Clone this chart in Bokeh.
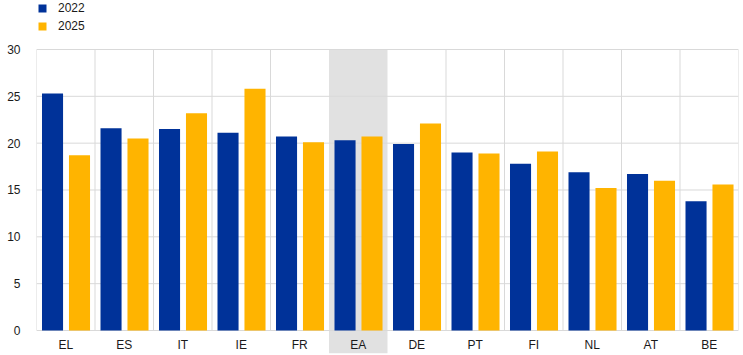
from bokeh.plotting import figure
from bokeh.models import ColumnDataSource, Range1d, FixedTicker, Legend, LegendItem
from bokeh.transform import dodge
from bokeh.core.properties import value
from bokeh.embed import file_html
from bokeh.resources import INLINE

categories = ["EL", "ES", "IT", "IE", "FR", "EA", "DE", "PT", "FI", "NL", "AT", "BE"]
v2022 = [25.3, 21.6, 21.5, 21.1, 20.7, 20.3, 19.9, 19.0, 17.8, 16.9, 16.7, 13.8]
v2025 = [18.7, 20.5, 23.2, 25.8, 20.1, 20.7, 22.1, 18.9, 19.1, 15.2, 16.0, 15.6]
yticks = [0, 5, 10, 15, 20, 25, 30]
highlight = "EA"

BLUE = "#003299"
YELLOW = "#FFB400"
GRID = "#D9D9D9"
SHADE = "#E1E1E1"
FONT = "Liberation Sans"
TXT = "#1a1a1a"

n = len(categories)
xs = [i + 0.5 for i in range(n)]
src = ColumnDataSource(dict(x=xs, cat=categories, a=v2022, b=v2025))

ymin = -2.455
ymax = 35.23
p = figure(width=743, height=355, output_backend="svg", toolbar_location=None,
           x_range=Range1d(0, n), y_range=Range1d(ymin, ymax),
           min_border_left=36, min_border_right=5, min_border_top=0, min_border_bottom=2)
p.outline_line_color = None
p.xgrid.visible = False
p.ygrid.visible = False
p.xaxis.visible = False
p.background_fill_color = "white"

# highlight band
hi = categories.index(highlight)
p.quad(left=[hi], right=[hi + 1], bottom=[ymin], top=[yticks[-1]],
       fill_color=SHADE, line_color=None)

# vertical grid lines at category boundaries (hidden under the band)
bx = [i for i in range(n + 1) if i not in (hi, hi + 1)]
p.segment(x0=bx, x1=bx, y0=[yticks[0]] * len(bx), y1=[yticks[-1]] * len(bx),
          line_color=GRID, line_width=1)
# horizontal grid lines
p.segment(x0=[0] * len(yticks), x1=[n] * len(yticks), y0=yticks, y1=yticks,
          line_color=GRID, line_width=1)

w = 0.36
r1 = p.vbar(x=dodge("x", -0.226, range=p.x_range), top="a", width=w, bottom=0,
            source=src, fill_color=BLUE, line_color=None)
r2 = p.vbar(x=dodge("x", 0.235, range=p.x_range), top="b", width=w, bottom=0,
            source=src, fill_color=YELLOW, line_color=None)

# category labels
p.text(x="x", y=-1.5, text="cat", source=src, text_align="center",
       text_baseline="middle", text_font=value(FONT), text_font_size="12px",
       text_color=TXT)

p.yaxis.ticker = FixedTicker(ticks=yticks)
p.yaxis.axis_line_color = None
p.yaxis.major_tick_line_color = None
p.yaxis.minor_tick_line_color = None
p.yaxis.major_label_standoff = 10
p.yaxis.major_label_text_font = FONT
p.yaxis.major_label_text_font_size = "12px"
p.yaxis.major_label_text_color = TXT

legend = Legend(items=[LegendItem(label="2022", renderers=[r1]),
                       LegendItem(label="2025", renderers=[r2])],
                location=(1, 320), orientation="vertical",
                glyph_width=10, glyph_height=10, label_height=10, label_width=30,
                spacing=4, padding=0, margin=0, label_standoff=11,
                label_text_font=FONT, label_text_font_size="12px",
                label_text_color=TXT, label_text_baseline="middle",
                border_line_color=None, background_fill_alpha=0)
p.add_layout(legend, "center")

open("out.html", "w").write(file_html(p, INLINE))
